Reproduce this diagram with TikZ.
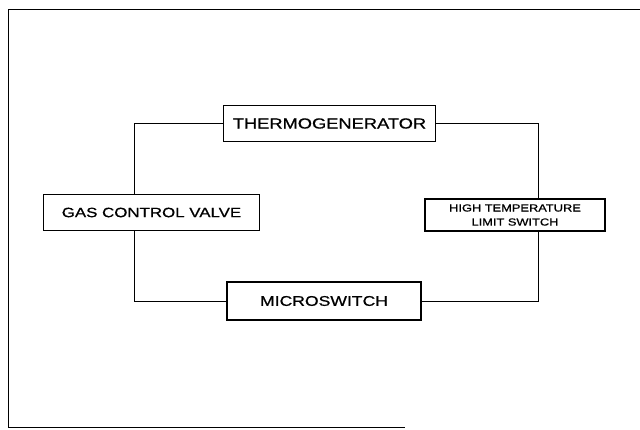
\documentclass[tikz,border=0pt]{standalone}
\usepackage{fontspec}
\setmainfont[FakeStretch=1.25,FakeBold=0.8]{Liberation Sans}
\usepackage{tikz}
\usetikzlibrary{positioning}

\tikzset{
  unit/.style={draw=black,line width=0.8pt,inner sep=0pt,align=center,font=\fontsize{10}{12}\selectfont},
  wire/.style={draw=black,line width=0.7pt}
}

\begin{document}
\begin{tikzpicture}[x=0.025cm,y=-0.025cm]
\useasboundingbox (0,0) rectangle (640,429);

\draw [line width=0.7pt] (640,9) -- (8,9) -- (8,427) -- (405,427);

\node [unit,minimum width=5.28cm,minimum height=0.9cm,font=\fontsize{10.4}{12}\selectfont] (thermo) at (329.5,123.5) {THERMOGENERATOR};
\node [unit,minimum width=5.42cm,minimum height=0.88cm,font=\fontsize{9.6}{12}\selectfont] (gas) at (151.5,212.5) {GAS CONTROL VALVE};
\node [unit,minimum width=4.5cm,minimum height=0.8cm,font=\fontsize{7.3}{10}\selectfont] (limit) at (515,215) {HIGH TEMPERATURE\\LIMIT SWITCH};
\node [unit,minimum width=4.85cm,minimum height=0.95cm] (micro) at (324,301) {MICROSWITCH};

\coordinate (lw) at (134,0);
\coordinate (rw) at (538,0);

\draw [wire] (thermo.west) -| (lw |- gas.north);
\draw [wire] (micro.west) -| (lw |- gas.south);
\draw [wire] (thermo.east) -| (rw |- limit.north);
\draw [wire] (micro.east) -| (rw |- limit.south);
\end{tikzpicture}
\end{document}
